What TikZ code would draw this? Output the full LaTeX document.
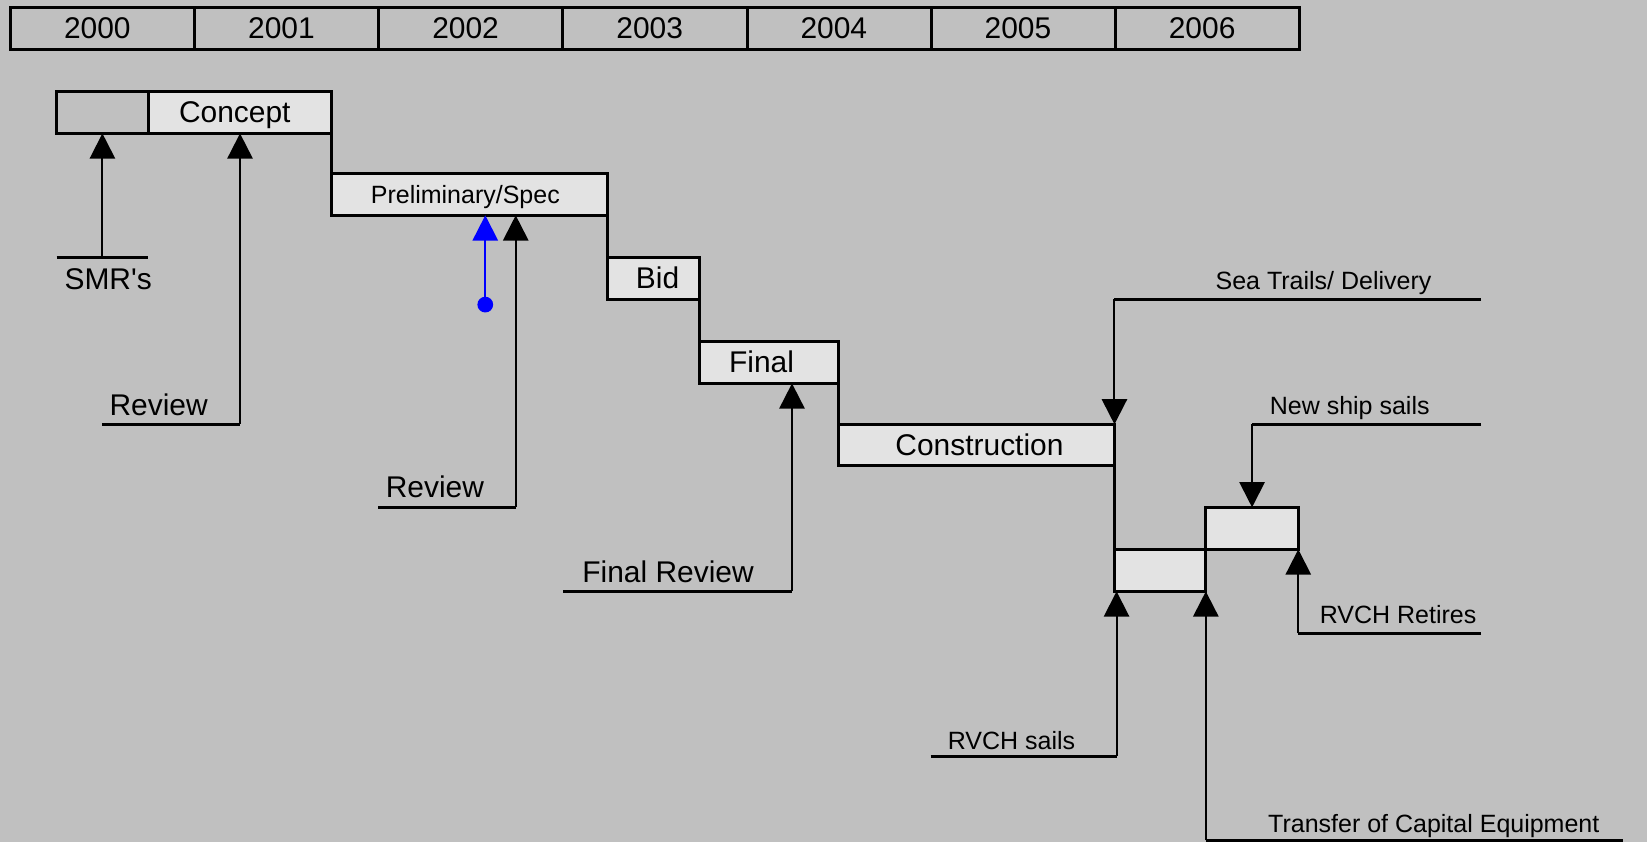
\documentclass[tikz,border=0pt]{standalone}
\usepackage{fontspec}
\setmainfont{Liberation Sans}
\usetikzlibrary{arrows.meta}
\definecolor{bgc}{HTML}{C0C0C0}
\definecolor{boxfill}{HTML}{E3E3E3}
\newcommand\BigLab{\fontsize{28.5}{30}\selectfont}
\newcommand\SmallLab{\fontsize{23.8}{25}\selectfont}
\begin{document}
\begin{tikzpicture}[x=1pt,y=-1pt,
  yearbox/.style={draw,line width=2.8pt,inner sep=0pt,outer sep=0pt,anchor=north west,minimum width=175.3pt,minimum height=40pt,font=\BigLab},
  phase/.style={draw,line width=2.8pt,fill=boxfill,inner sep=0pt,outer sep=0pt,anchor=north west,minimum height=40pt,font=\BigLab,text height=20pt,text depth=0pt},
  conn/.style={line width=2.8pt},
  lab/.style={line width=2.8pt},
  arr/.style={line width=1.9pt,-{Triangle[length=24pt,width=24pt]}},
  biglab/.style={font=\BigLab,anchor=base,inner sep=0pt},
  smalllab/.style={font=\SmallLab,anchor=base,inner sep=0pt}]
\useasboundingbox (0,0) rectangle (1568,802);
\fill[bgc] (0,0) rectangle (1568,802);
% year bar
\foreach \i/\yr in {0/2000,1/2001,2/2002,3/2003,4/2004,5/2005,6/2006}{
  \node[yearbox] (y\i) at ({10+175.3*\i},7) {\hspace*{-10pt}\yr};
}
% phases
\node[phase,fill=none,minimum width=87pt] (pre) at (54,87) {};
\node[phase,minimum width=175pt] (concept) at (141,87) {\hspace*{-10pt}Concept};
\node[phase,minimum width=262pt,font=\SmallLab,text height=17pt] (prelim) at (316,165) {\hspace*{-8pt}Preliminary/Spec};
\node[phase,minimum width=88pt] (bid) at (578,245) {\hspace*{8pt}Bid};
\node[phase,minimum width=132pt] (final) at (666,325) {\hspace*{-14pt}Final};
\node[phase,minimum width=263pt,minimum height=39.5pt] (constr) at (798,404) {\hspace*{6pt}Construction};
\node[phase,minimum width=87pt] (lowbox) at (1061,523) {};
\node[phase,minimum width=88pt] (highbox) at (1148,483) {};
% step connectors
\draw[conn] (concept.south east) -- (prelim.north west);
\draw[conn] (prelim.south east) -- (bid.north west);
\draw[conn] (bid.south east) -- (final.north west);
\draw[conn] (final.south east) -- (constr.north west);
\draw[conn] (constr.south east) -- (lowbox.north west);
% SMR's
\coordinate (smrA) at (54,245); \coordinate (smrB) at (141,245); \coordinate (smrM) at (97.5,245);
\draw[lab] (smrA) -- (smrB);
\draw[arr] (smrM) -- (pre.south);
\node[biglab] (smr) at (103,276) {SMR\textquotesingle s};
% Review 1
\coordinate (r1a) at (97,404); \coordinate (r1b) at (228.5,404);
\draw[lab] (r1a) -- (r1b);
\draw[arr] (r1b) -- (concept.south);
\node[biglab] (rev1) at (151,396) {Review};
% blue
\node[circle,fill=blue,inner sep=0pt,minimum size=15pt] (bdot) at (462,290) {};
\draw[arr,blue] (bdot.center) -- (bdot.center |- prelim.south);
% Review 2
\coordinate (r2a) at (360,483); \coordinate (r2b) at (491,483);
\draw[lab] (r2a) -- (r2b);
\draw[arr] (r2b) -- (r2b |- prelim.south);
\node[biglab] (rev2) at (414,474) {Review};
% Final Review
\coordinate (fra) at (536,563); \coordinate (frb) at (754,563);
\draw[lab] (fra) -- (frb);
\draw[arr] (frb) -- (frb |- final.south);
\node[biglab] (frev) at (636,555) {Final Review};
% Sea Trails
\coordinate (sta) at (1410,285); \coordinate (stb) at (1061,285);
\draw[lab] (sta) -- (stb);
\draw[arr] (stb) -- (constr.north east);
\node[smalllab] (sea) at (1260,276) {Sea Trails/ Delivery};
% New ship sails
\coordinate (nsa) at (1410,404); \coordinate (nsb) at (1192,404);
\draw[lab] (nsa) -- (nsb);
\draw[arr] (nsb) -- (highbox.north);
\node[smalllab] (nss) at (1285,395) {New ship sails};
% RVCH Retires
\coordinate (rra) at (1410,603); \coordinate (rrb) at (1236,603);
\draw[lab] (rra) -- (rrb);
\draw[arr] (rrb) -- (highbox.south east);
\node[smalllab] (rret) at (1331,594) {RVCH Retires};
% RVCH sails
\coordinate (rsa) at (886,720); \coordinate (rsb) at (1063,720);
\draw[lab] (rsa) -- (rsb);
\draw[arr] (rsb) -- (rsb |- lowbox.south);
\node[smalllab] (rsail) at (963,714) {RVCH sails};
% Transfer
\coordinate (tca) at (1545,800); \coordinate (tcb) at (1148,800);
\draw[lab] (tca) -- (tcb);
\draw[arr] (tcb) -- (lowbox.south east);
\node[smalllab] (tce) at (1365,793) {Transfer of Capital Equipment};
\end{tikzpicture}
\end{document}
